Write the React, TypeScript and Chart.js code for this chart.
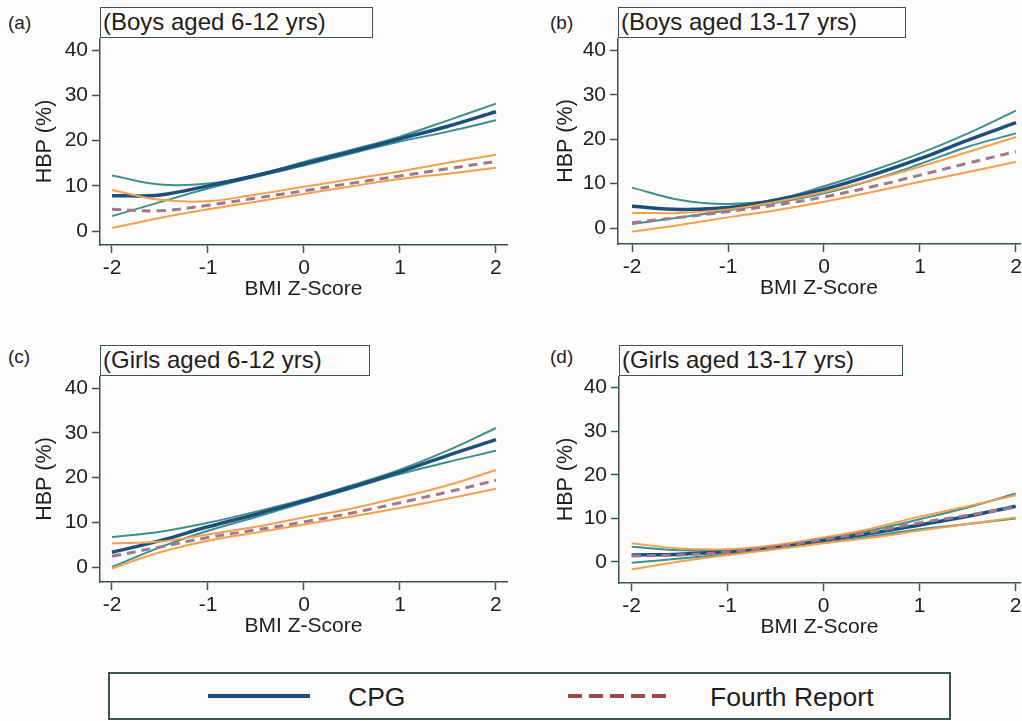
import React, { useEffect, useRef } from "react";
import { Chart, registerables } from "chart.js";

Chart.register(...registerables);

// ---------------- data ----------------
const zValues = [-2, -1.5, -1, -0.5, 0, 0.5, 1, 1.5, 2];
const xTickValues = [-2, -1, 0, 1, 2];
const yTickValues = [0, 10, 20, 30, 40];

const panelLetters = ["(a)", "(b)", "(c)", "(d)"];
const panelTitles = [
  "(Boys aged 6-12 yrs)",
  "(Boys aged 13-17 yrs)",
  "(Girls aged 6-12 yrs)",
  "(Girls aged 13-17 yrs)",
];
const xAxisTitle = "BMI Z-Score";
const yAxisTitle = "HBP (%)";
const legendLabels = ["CPG", "Fourth Report"];

// (a) Boys 6-12
const cpgA = [7.8, 8.0, 10.0, 12.3, 14.9, 17.6, 20.4, 23.2, 26.4];
const cpgUpA = [12.3, 10.3, 10.5, 12.4, 15.3, 18.0, 20.9, 24.5, 28.2];
const cpgLoA = [3.3, 6.4, 9.4, 12.0, 14.5, 17.2, 19.8, 22.0, 24.5];
const frA = [4.8, 4.5, 5.7, 7.3, 8.9, 10.6, 12.2, 13.8, 15.4];
const frUpA = [9.1, 6.9, 6.6, 8.1, 9.8, 11.5, 13.2, 15.1, 16.9];
const frLoA = [0.7, 2.9, 4.8, 6.5, 8.2, 9.9, 11.5, 12.7, 14.0];

// (b) Boys 13-17
const cpgB = [4.9, 4.2, 4.6, 6.3, 8.7, 11.9, 15.6, 19.8, 23.7];
const cpgUpB = [9.1, 6.3, 5.4, 6.4, 9.4, 12.9, 16.8, 21.3, 26.4];
const cpgLoB = [0.9, 2.4, 4.0, 5.7, 7.8, 10.8, 14.4, 18.3, 21.3];
const frB = [1.2, 2.4, 3.7, 5.2, 7.0, 9.3, 11.9, 14.6, 17.2];
const frUpB = [3.4, 3.4, 4.2, 5.9, 8.1, 10.8, 13.8, 17.1, 20.5];
const frLoB = [-0.8, 0.7, 2.4, 4.0, 5.9, 8.1, 10.4, 12.6, 14.9];

// (c) Girls 6-12
const cpgC = [3.3, 5.9, 9.0, 11.8, 14.8, 17.9, 21.3, 25.0, 28.5];
const cpgUpC = [6.7, 7.9, 9.9, 12.4, 15.1, 18.3, 21.8, 26.1, 31.1];
const cpgLoC = [0.0, 4.4, 8.1, 11.2, 14.4, 17.6, 20.8, 23.5, 26.0];
const frC = [2.4, 4.5, 6.6, 8.3, 10.1, 12.1, 14.4, 16.8, 19.4];
const frUpC = [5.3, 5.7, 7.3, 9.0, 11.1, 13.1, 15.6, 18.3, 21.7];
const frLoC = [-0.3, 3.3, 5.9, 7.7, 9.5, 11.3, 13.2, 15.3, 17.5];

// (d) Girls 13-17
const cpgD = [1.6, 1.8, 2.4, 3.5, 5.0, 6.6, 8.5, 10.5, 12.8];
const cpgUpD = [3.5, 2.7, 2.7, 3.7, 5.3, 7.3, 9.8, 12.5, 15.7];
const cpgLoD = [-0.2, 0.8, 1.8, 3.1, 4.4, 5.9, 7.5, 8.7, 10.0];
const frD = [1.4, 1.6, 2.3, 3.5, 5.2, 6.9, 9.0, 10.7, 12.6];
const frUpD = [4.3, 3.1, 2.9, 3.9, 5.6, 7.7, 10.4, 12.8, 15.3];
const frLoD = [-1.7, 0.1, 1.6, 2.9, 4.3, 5.6, 7.2, 8.7, 10.2];

const panelSeries = [
  { cpg: cpgA, cpgUp: cpgUpA, cpgLo: cpgLoA, fr: frA, frUp: frUpA, frLo: frLoA },
  { cpg: cpgB, cpgUp: cpgUpB, cpgLo: cpgLoB, fr: frB, frUp: frUpB, frLo: frLoB },
  { cpg: cpgC, cpgUp: cpgUpC, cpgLo: cpgLoC, fr: frC, frUp: frUpC, frLo: frLoC },
  { cpg: cpgD, cpgUp: cpgUpD, cpgLo: cpgLoD, fr: frD, frUp: frUpD, frLo: frLoD },
];

// ---------------- styles / layout ----------------
const FONT = '"Liberation Sans", Arial, Helvetica, sans-serif';
const AXIS_COLOR = "#3b5457";
const TEXT_COLOR = "#1e1e1e";
const CPG_COLOR = "#1d4f7c";
const CPG_CI_COLOR = "#3a918c";
const FR_COLOR = "#a07a8c";
const FR_CI_COLOR = "#f2a04e";
const LEGEND_FR_COLOR = "#9b4a4a";
const BG = "#fefcfb";

const panelLayouts = [
  { left: 0, top: 38, width: 510, height: 263, yAxisWidth: 100, padRight: 3, xMin: -2.125, xMax: 2.115, yMin: -3.09, yMax: 42.72, yTitlePad: 32.4,
    box: { left: 100, top: 7, width: 273, height: 31 }, letter: { left: 8, top: 10 } },
  { left: 510, top: 38, width: 512, height: 262, yAxisWidth: 108, padRight: 2, xMin: -2.146, xMax: 2.042, yMin: -3.59, yMax: 42.76, yTitlePad: 43.4,
    box: { left: 618, top: 7, width: 288, height: 31 }, letter: { left: 550, top: 10 } },
  { left: 0, top: 376, width: 510, height: 262, yAxisWidth: 100, padRight: 3, xMin: -2.125, xMax: 2.115, yMin: -3.35, yMax: 42.74, yTitlePad: 32.4,
    box: { left: 100, top: 345, width: 270, height: 31 }, letter: { left: 8, top: 344 } },
  { left: 510, top: 376, width: 512, height: 263, yAxisWidth: 109, padRight: 2, xMin: -2.132, xMax: 2.045, yMin: -4.82, yMax: 42.66, yTitlePad: 43.4,
    box: { left: 619, top: 345, width: 284, height: 31 }, letter: { left: 550, top: 344 } },
];

function pts(ys: number[]) {
  return zValues.map((x, i) => ({ x, y: ys[i] }));
}

function PanelChart({ idx }: { idx: number }) {
  const ref = useRef<HTMLCanvasElement>(null);
  const L = panelLayouts[idx];
  const S = panelSeries[idx];

  useEffect(() => {
    if (!ref.current) return;
    const gridCommon = {
      display: true,
      drawOnChartArea: false,
      drawTicks: true,
      tickLength: 8,
      tickWidth: 1.5,
      tickColor: AXIS_COLOR,
      color: AXIS_COLOR,
    };
    const chart = new Chart(ref.current, {
      type: "line",
      data: {
        datasets: [
          { label: "Fourth Report", data: pts(S.fr), borderColor: FR_COLOR, borderWidth: 3, borderDash: [9, 6] },
          { label: "Fourth Report upper", data: pts(S.frUp), borderColor: FR_CI_COLOR, borderWidth: 2 },
          { label: "Fourth Report lower", data: pts(S.frLo), borderColor: FR_CI_COLOR, borderWidth: 2 },
          { label: "CPG", data: pts(S.cpg), borderColor: CPG_COLOR, borderWidth: 3.5 },
          { label: "CPG upper", data: pts(S.cpgUp), borderColor: CPG_CI_COLOR, borderWidth: 2 },
          { label: "CPG lower", data: pts(S.cpgLo), borderColor: CPG_CI_COLOR, borderWidth: 2 },
        ],
      },
      options: {
        responsive: false,
        maintainAspectRatio: false,
        animation: false,
        layout: { padding: { left: 0, right: L.padRight, top: 0, bottom: 0 } },
        plugins: {
          legend: { display: false },
          tooltip: { enabled: false },
          title: { display: false },
        },
        elements: {
          point: { radius: 0, hoverRadius: 0 },
          line: { tension: 0.4, fill: false },
        },
        scales: {
          x: {
            type: "linear",
            min: L.xMin,
            max: L.xMax,
            afterBuildTicks: (s: any) => {
              s.ticks = xTickValues.map((v) => ({ value: v }));
            },
            afterFit: (s: any) => {
              s.height = 56;
              s.paddingLeft = 0;
              s.paddingRight = 0;
            },
            ticks: {
              autoSkip: false,
              maxRotation: 0,
              padding: 3,
              color: TEXT_COLOR,
              font: { family: FONT, size: 21 },
              callback: (v: any) => String(v),
            },
            grid: gridCommon,
            border: { display: true, color: AXIS_COLOR, width: 1.5 },
            title: {
              display: true,
              text: xAxisTitle,
              color: TEXT_COLOR,
              font: { family: FONT, size: 21 },
              padding: { top: 0, bottom: -1 },
            },
          },
          y: {
            type: "linear",
            min: L.yMin,
            max: L.yMax,
            afterBuildTicks: (s: any) => {
              s.ticks = yTickValues.map((v) => ({ value: v }));
            },
            afterFit: (s: any) => {
              s.width = L.yAxisWidth;
              s.paddingTop = 0;
              s.paddingBottom = 0;
            },
            ticks: {
              autoSkip: false,
              padding: 4,
              color: TEXT_COLOR,
              font: { family: FONT, size: 21 },
              callback: (v: any) => String(v),
            },
            grid: gridCommon,
            border: { display: true, color: AXIS_COLOR, width: 1.5 },
            title: {
              display: true,
              text: yAxisTitle,
              color: TEXT_COLOR,
              font: { family: FONT, size: 21.5 },
              padding: { top: L.yTitlePad, bottom: 0 },
            },
          },
        },
      } as any,
    });
    return () => chart.destroy();
  }, []);

  return (
    <>
      <canvas
        ref={ref}
        width={L.width}
        height={L.height}
        style={{ position: "absolute", left: L.left, top: L.top, width: L.width, height: L.height }}
      />
      <div
        style={{
          position: "absolute",
          left: L.box.left,
          top: L.box.top,
          width: L.box.width,
          height: L.box.height,
          boxSizing: "border-box",
          border: `1.5px solid ${AXIS_COLOR}`,
          fontFamily: FONT,
          fontSize: 24,
          lineHeight: `${L.box.height - 3}px`,
          paddingLeft: 2,
          color: TEXT_COLOR,
          whiteSpace: "nowrap",
          background: BG,
        }}
      >
        {panelTitles[idx]}
      </div>
      <div
        style={{
          position: "absolute",
          left: L.letter.left,
          top: L.letter.top,
          height: 26,
          lineHeight: "26px",
          fontFamily: FONT,
          fontSize: 19,
          color: TEXT_COLOR,
        }}
      >
        {panelLetters[idx]}
      </div>
    </>
  );
}

function Legend() {
  return (
    <div
      style={{
        position: "absolute",
        left: 108,
        top: 672,
        width: 843,
        height: 48,
        boxSizing: "border-box",
        border: `2px solid ${AXIS_COLOR}`,
        fontFamily: FONT,
        color: TEXT_COLOR,
      }}
    >
      <div style={{ position: "absolute", left: 98, top: 20, width: 102, height: 4, background: CPG_COLOR }} />
      <div
        style={{ position: "absolute", left: 238, top: 8, height: 30, lineHeight: "30px", fontSize: 26.5, whiteSpace: "nowrap" }}
      >
        {legendLabels[0]}
      </div>
      <div
        style={{
          position: "absolute",
          left: 458,
          top: 20,
          width: 102,
          height: 4,
          background: `repeating-linear-gradient(to right, ${LEGEND_FR_COLOR} 0px, ${LEGEND_FR_COLOR} 14px, transparent 14px, transparent 21px)`,
        }}
      />
      <div
        style={{ position: "absolute", left: 600, top: 8, height: 30, lineHeight: "30px", fontSize: 26.5, whiteSpace: "nowrap" }}
      >
        {legendLabels[1]}
      </div>
    </div>
  );
}

export default function App() {
  return (
    <div
      style={{
        position: "absolute",
        left: 0,
        top: 0,
        width: 1022,
        height: 721,
        overflow: "hidden",
        background: BG,
      }}
    >
      {[0, 1, 2, 3].map((i) => (
        <PanelChart key={i} idx={i} />
      ))}
      <Legend />
    </div>
  );
}
